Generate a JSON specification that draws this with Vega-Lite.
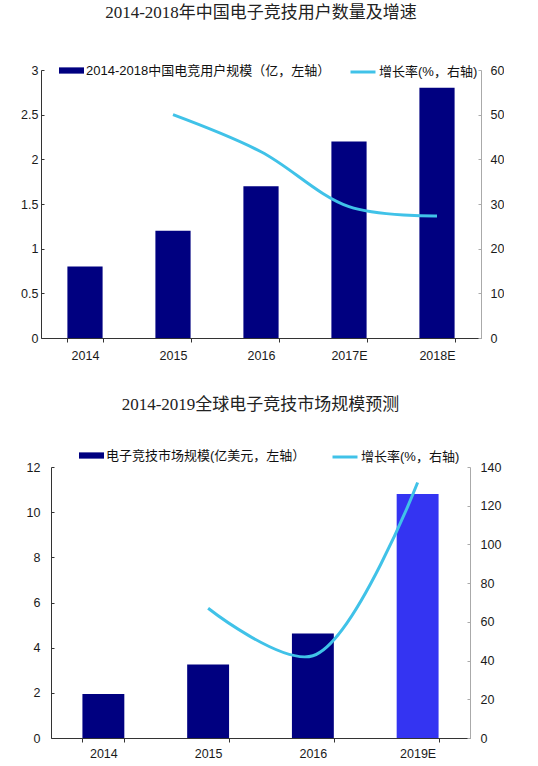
{
  "$schema": "https://vega.github.io/schema/vega-lite/v6.json",
  "padding": {"left": 20, "top": 4, "right": 0, "bottom": 0},
  "spacing": 34,
  "config": {
    "view": {"stroke": null},
    "axis": {"grid": false, "labelFont": "Liberation Sans", "labelFontSize": 12.5, "labelColor": "#1a1a1a"},
    "title": {"font": "Liberation Serif, Noto Sans CJK SC", "fontSize": 17, "fontWeight": "normal", "color": "#222222", "anchor": "middle"},
    "legend": {"labelFont": "Liberation Sans, Noto Sans CJK SC", "labelFontSize": 13, "labelColor": "#111111", "labelLimit": 0, "padding": 0, "labelOffset": 2}
  },
  "vconcat": [
    {
      "title": {"text": "2014-2018年中国电子竞技用户数量及增速", "offset": 36},
      "width": 440,
      "height": 268,
      "data": {
        "values": [
          {"year": "2014", "users": 0.8, "growth": null},
          {"year": "2015", "users": 1.2, "growth": 50},
          {"year": "2016", "users": 1.7, "growth": 41.7},
          {"year": "2017E", "users": 2.2, "growth": 29.4},
          {"year": "2018E", "users": 2.8, "growth": 27.3}
        ]
      },
      "encoding": {
        "x": {
          "field": "year",
          "type": "ordinal",
          "sort": null,
          "scale": {"paddingInner": 0.6, "paddingOuter": 0.3},
          "axis": {"title": null, "labelAngle": 0, "tickBand": "extent", "tickSize": 4, "labelPadding": 7, "domainColor": "#333333", "tickColor": "#333333"}
        }
      },
      "layer": [
        {
          "mark": {"type": "bar"},
          "encoding": {
            "y": {
              "field": "users",
              "type": "quantitative",
              "scale": {"domain": [0, 3]},
              "axis": {"title": null, "orient": "left", "values": [0, 0.5, 1, 1.5, 2, 2.5, 3], "format": "~g", "tickSize": -3, "labelPadding": 6, "domainColor": "#333333", "tickColor": "#333333"}
            },
            "color": {
              "datum": "2014-2018中国电竞用户规模（亿，左轴）",
              "scale": {"range": ["#000080"]},
              "legend": {"title": null, "orient": "none", "legendX": 18, "legendY": -12, "symbolType": "M-1,-0.25H1V0.25H-1Z", "symbolSize": 625, "symbolStrokeWidth": 0}
            }
          }
        },
        {
          "mark": {"type": "line", "interpolate": "catmull-rom", "strokeWidth": 3},
          "transform": [{"filter": "datum.growth != null"}],
          "encoding": {
            "y": {
              "field": "growth",
              "type": "quantitative",
              "scale": {"domain": [0, 60]},
              "axis": {"title": null, "orient": "right", "values": [0, 10, 20, 30, 40, 50, 60], "tickSize": -3, "labelPadding": 12, "domainColor": "#aaaaaa", "tickColor": "#aaaaaa"}
            },
            "stroke": {
              "datum": "增长率(%，右轴)",
              "scale": {"range": ["#40c2e8"]},
              "legend": {"title": null, "orient": "none", "legendX": 308, "legendY": -12, "symbolType": "stroke", "symbolSize": 625, "symbolStrokeWidth": 3}
            }
          }
        }
      ],
      "resolve": {"scale": {"y": "independent", "color": "independent", "stroke": "independent"}}
    },
    {
      "spacing": -16,
      "hconcat": [
        {"width": 1, "height": 10, "data": {"values": []}, "mark": "point"},
        {
          "title": {"text": "2014-2019全球电子竞技市场规模预测", "offset": 29},
          "width": 419,
          "height": 271,
          "data": {
            "values": [
              {"year": "2014", "market": 1.95, "growth": null},
              {"year": "2015", "market": 3.25, "growth": 67},
              {"year": "2016", "market": 4.63, "growth": 42.5},
              {"year": "2019E", "market": 10.8, "growth": 132}
            ]
          },
          "encoding": {
            "x": {
              "field": "year",
              "type": "ordinal",
              "sort": null,
              "scale": {"paddingInner": 0.6, "paddingOuter": 0.3},
              "axis": {"title": null, "labelAngle": 0, "tickBand": "extent", "tickSize": 4, "labelPadding": 5, "domainColor": "#333333", "tickColor": "#333333"}
            }
          },
          "layer": [
            {
              "mark": {"type": "bar"},
              "encoding": {
                "y": {
                  "field": "market",
                  "type": "quantitative",
                  "scale": {"domain": [0, 12]},
                  "axis": {"title": null, "orient": "left", "values": [0, 2, 4, 6, 8, 10, 12], "tickSize": -3, "labelPadding": 14, "domainColor": "#333333", "tickColor": "#333333"}
                },
                "color": {
                  "condition": {"test": "datum.year === '2019E'", "value": "#3434f2"},
                  "datum": "电子竞技市场规模(亿美元，左轴）",
                  "scale": {"range": ["#000080"]},
                  "legend": {"title": null, "orient": "none", "legendX": 28, "legendY": -24, "symbolType": "M-1,-0.25H1V0.25H-1Z", "symbolSize": 625, "symbolStrokeWidth": 0}
                }
              }
            },
            {
              "mark": {"type": "line", "interpolate": "catmull-rom", "strokeWidth": 3},
              "transform": [{"filter": "datum.growth != null"}],
              "encoding": {
                "y": {
                  "field": "growth",
                  "type": "quantitative",
                  "scale": {"domain": [0, 140]},
                  "axis": {"title": null, "orient": "right", "values": [0, 20, 40, 60, 80, 100, 120, 140], "tickSize": -3, "labelPadding": 13, "domainColor": "#aaaaaa", "tickColor": "#aaaaaa"}
                },
                "stroke": {
                  "datum": "增长率(%，右轴)",
                  "scale": {"range": ["#40c2e8"]},
                  "legend": {"title": null, "orient": "none", "legendX": 280, "legendY": -24, "symbolType": "stroke", "symbolSize": 625, "symbolStrokeWidth": 3}
                }
              }
            }
          ],
          "resolve": {"scale": {"y": "independent", "color": "independent", "stroke": "independent"}}
        }
      ]
    }
  ]
}
